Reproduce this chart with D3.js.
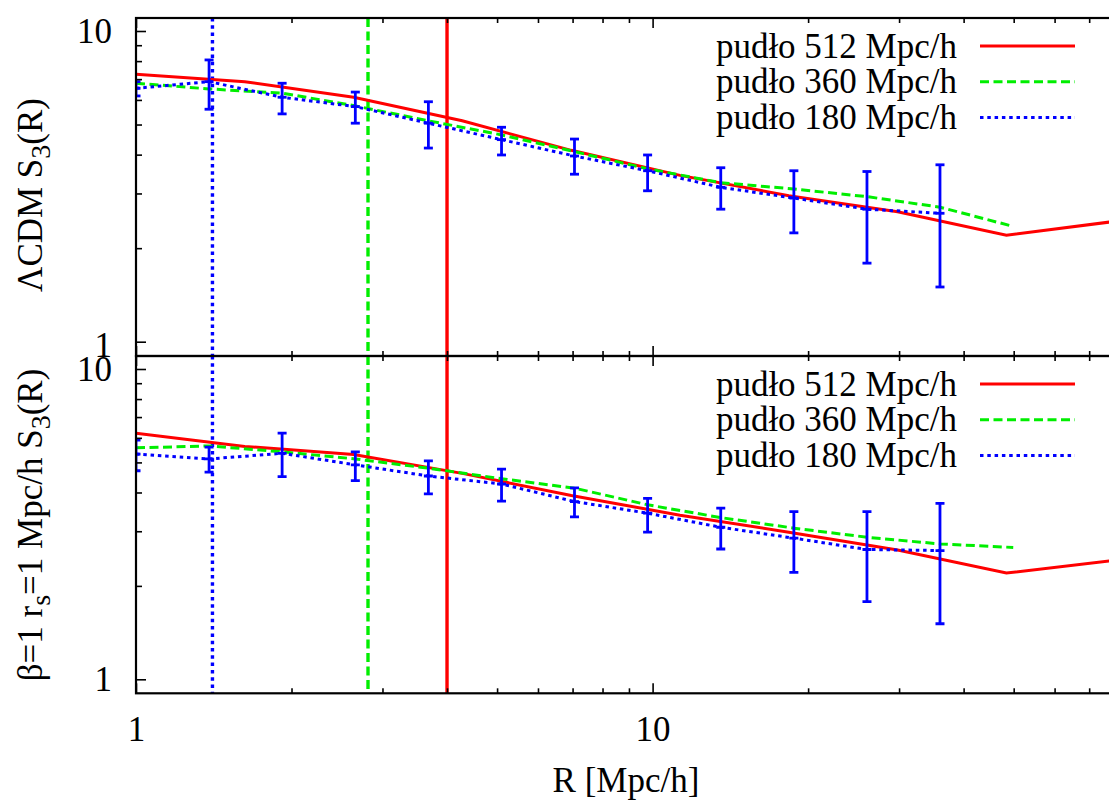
<!DOCTYPE html>
<html><head><meta charset="utf-8">
<script src="https://cdn.jsdelivr.net/npm/d3@7"></script>
<style>
body{margin:0;background:#fff}
svg{display:block}
text{font-family:"Liberation Serif","Times New Roman",serif;fill:#000}
</style>
</head><body>
<svg id="c" width="1109" height="801"></svg>
<script>
// ---------------- data ----------------
const R_blue  = [1.00, 1.385, 1.918, 2.658, 3.681, 5.10, 7.06, 9.78, 13.55, 18.77, 26.0, 36.0];
const R_green = [1.00, 1.385, 1.918, 2.658, 3.681, 5.10, 7.06, 9.78, 13.55, 18.77, 26.0, 36.0, 49.9];
const R_red   = [1.00, 1.624, 2.638, 4.28, 6.96, 11.30, 18.35, 29.8, 48.4, 78.6];
const boxCuts = [1.406, 2.8125, 4.0];   // 180/128, 360/128, 512/128

// top panel: LCDM
const top_red   = [7.26, 6.87, 6.12, 5.14, 4.13, 3.43, 2.95, 2.62, 2.20, 2.44];
const top_green = [6.79, 6.51, 6.31, 5.74, 5.14, 4.63, 4.09, 3.60, 3.25, 3.10, 2.93, 2.71, 2.35];
const top_blue  = [6.54, 6.87, 6.12, 5.71, 5.05, 4.47, 3.96, 3.55, 3.14, 2.90, 2.67, 2.59];
const top_hi    = [6.87, 8.07, 6.79, 6.36, 5.92, 4.90, 4.49, 3.99, 3.63, 3.55, 3.53, 3.71];
const top_lo    = [6.18, 5.60, 5.41, 5.05, 4.20, 3.99, 3.46, 3.06, 2.67, 2.24, 1.79, 1.50];

// bottom panel: beta=1 rs=1
const bot_red   = [6.21, 5.63, 5.30, 4.61, 3.91, 3.38, 2.98, 2.61, 2.20, 2.42];
const bot_green = [5.57, 5.65, 5.41, 5.13, 4.79, 4.43, 4.13, 3.65, 3.32, 3.07, 2.87, 2.73, 2.66];
const bot_blue  = [5.32, 5.13, 5.35, 4.91, 4.52, 4.26, 3.74, 3.43, 3.09, 2.85, 2.62, 2.60];
const bot_hi    = [5.90, 5.60, 6.21, 5.41, 5.06, 4.76, 4.14, 3.83, 3.56, 3.47, 3.47, 3.69];
const bot_lo    = [4.70, 4.65, 4.50, 4.37, 3.96, 3.75, 3.34, 2.98, 2.63, 2.21, 1.78, 1.51];

const seriesNames = ["pudło 512 Mpc/h", "pudło 360 Mpc/h", "pudło 180 Mpc/h"];
const xMajor = [1, 10], xMinor = [2,3,4,5,6,7,8,9,20,30,40,50,60,70,80];
const yMajor = [1, 10], yMinor = [2,3,4,5,6,7,8,9];
const xTitle = "R [Mpc/h]";

// ---------------- drawing ----------------
const svg = d3.select("#c");
const FS = 35;
const X0 = 136, DEC = 516.6;
const x = d3.scaleLog().domain([1, 80]).range([X0, X0 + Math.log10(80) * DEC]);
const X1 = x(80);

const styles = [
  {color: "#ff0000", dash: null},
  {color: "#00ee00", dash: "9,4.5"},
  {color: "#0000ff", dash: "3.5,3.8"}
];

const panels = [
  {y0: 18, y1: 356, r1: 341.7, r10: 31, red: top_red, green: top_green, blue: top_blue, hi: top_hi, lo: top_lo,
   legY: 46, label: "top", labY: 195, lab1dy: "0.42em"},
  {y0: 356, y1: 693.3, r1: 679.3, r10: 369, red: bot_red, green: bot_green, blue: bot_blue, hi: bot_hi, lo: bot_lo,
   legY: 384, label: "bot", labY: 525, lab1dy: "0.33em"}
];

panels.forEach((p, pi) => {
  const y = d3.scaleLog().domain([1, 10]).range([p.r1, p.r10]);
  const g = svg.append("g");
  const cid = "clip" + pi;
  svg.append("clipPath").attr("id", cid).append("rect")
    .attr("x", X0).attr("y", p.y0).attr("width", X1 - X0).attr("height", p.y1 - p.y0);
  const dg = g.append("g").attr("clip-path", `url(#${cid})`);

  // vertical box-size lines (blue, green, red)
  [2, 1, 0].forEach(i => {
    dg.append("line")
      .attr("x1", x(boxCuts[i])).attr("x2", x(boxCuts[i]))
      .attr("y1", p.y0).attr("y2", p.y1)
      .attr("stroke", styles[2 - i].color).attr("stroke-width", 3.4)
      .attr("stroke-dasharray", styles[2 - i].dash);
  });

  const line = d3.line().x(d => x(d[0])).y(d => y(d[1]));
  const sets = [
    {R: R_red, v: p.red, s: styles[0]},
    {R: R_green, v: p.green, s: styles[1]},
    {R: R_blue, v: p.blue, s: styles[2]}
  ];
  sets.forEach(st => {
    dg.append("path").datum(st.R.map((r, i) => [r, st.v[i]]))
      .attr("d", line).attr("fill", "none")
      .attr("stroke", st.s.color).attr("stroke-width", 3)
      .attr("stroke-dasharray", st.s.dash);
  });

  // error bars
  const eb = dg.append("g").attr("stroke", "#0000ff").attr("stroke-width", 2.8);
  R_blue.forEach((r, i) => {
    const cx = x(r), w = 4.5;
    eb.append("line").attr("x1", cx).attr("x2", cx).attr("y1", y(p.hi[i])).attr("y2", y(p.lo[i]));
    [p.hi[i], p.lo[i], p.blue[i]].forEach(v => {
      eb.append("line").attr("x1", cx - w).attr("x2", cx + w).attr("y1", y(v)).attr("y2", y(v));
    });
  });

  // axes ticks
  const tickStyle = sel => {
    sel.select(".domain").remove();
    sel.selectAll("line").attr("stroke", "#000").attr("stroke-width", 1.6);
  };
  const addAxis = (gen, vals, size, tr) => {
    g.append("g").attr("transform", tr)
      .call(gen.tickValues(vals).tickSize(size).tickFormat(""))
      .call(tickStyle);
  };
  addAxis(d3.axisRight(y), yMajor, 10, `translate(${X0},0)`);
  addAxis(d3.axisRight(y), yMinor, 6, `translate(${X0},0)`);
  addAxis(d3.axisLeft(y), yMajor, 10, `translate(${X1},0)`);
  addAxis(d3.axisLeft(y), yMinor, 6, `translate(${X1},0)`);
  addAxis(d3.axisBottom(x), xMajor, 10, `translate(0,${p.y0})`);
  addAxis(d3.axisBottom(x), xMinor, 5, `translate(0,${p.y0})`);
  addAxis(d3.axisTop(x), xMajor, 10, `translate(0,${p.y1})`);
  addAxis(d3.axisTop(x), xMinor, 5, `translate(0,${p.y1})`);

  // y tick labels
  const yl = g.append("g").attr("transform", `translate(${X0},0)`)
    .call(d3.axisLeft(y).tickValues(yMajor).tickSize(0).tickPadding(24).tickFormat(d3.format("d")));
  yl.select(".domain").remove();
  yl.selectAll("text").attr("font-size", FS).attr("font-family", null)
    .attr("dy", d => d === 1 ? p.lab1dy : "0.33em");

  // border
  g.append("rect").attr("x", X0).attr("y", p.y0).attr("width", X1 - X0).attr("height", p.y1 - p.y0)
    .attr("fill", "none").attr("stroke", "#000").attr("stroke-width", 2.2);

  // legend
  seriesNames.forEach((nm, i) => {
    const ly = p.legY + i * 35.7;
    g.append("text").attr("x", 957).attr("y", ly + 11.5).attr("text-anchor", "end")
      .attr("font-size", FS).text(nm);
    g.append("line").attr("x1", 980).attr("x2", 1075).attr("y1", ly).attr("y2", ly)
      .attr("stroke", styles[i].color).attr("stroke-width", 3)
      .attr("stroke-dasharray", styles[i].dash);
  });

  // y title
  const t = svg.append("text").attr("transform", `translate(42,${p.labY}) rotate(-90)`)
    .attr("text-anchor", "middle").attr("font-size", FS);
  if (p.label === "top") {
    t.append("tspan").text("ΛCDM S");
    t.append("tspan").attr("font-size", FS * 0.8).attr("dy", 8).text("3");
    t.append("tspan").attr("dy", -8).text("(R)");
  } else {
    t.append("tspan").text("β=1 r");
    t.append("tspan").attr("font-size", FS * 0.8).attr("dy", 8).text("s");
    t.append("tspan").attr("dy", -8).text("=1 Mpc/h S");
    t.append("tspan").attr("font-size", FS * 0.8).attr("dy", 8).text("3");
    t.append("tspan").attr("dy", -8).text("(R)");
  }
});

// x tick labels & title
const xl = svg.append("g").attr("transform", `translate(0,693.3)`)
  .call(d3.axisBottom(x).tickValues(xMajor).tickSize(0).tickPadding(23).tickFormat(d3.format("d")));
xl.select(".domain").remove();
xl.selectAll("text").attr("font-size", FS).attr("font-family", null);

svg.append("text").attr("x", 626).attr("y", 792).attr("text-anchor", "middle")
  .attr("font-size", FS).text(xTitle);
</script>
</body></html>
